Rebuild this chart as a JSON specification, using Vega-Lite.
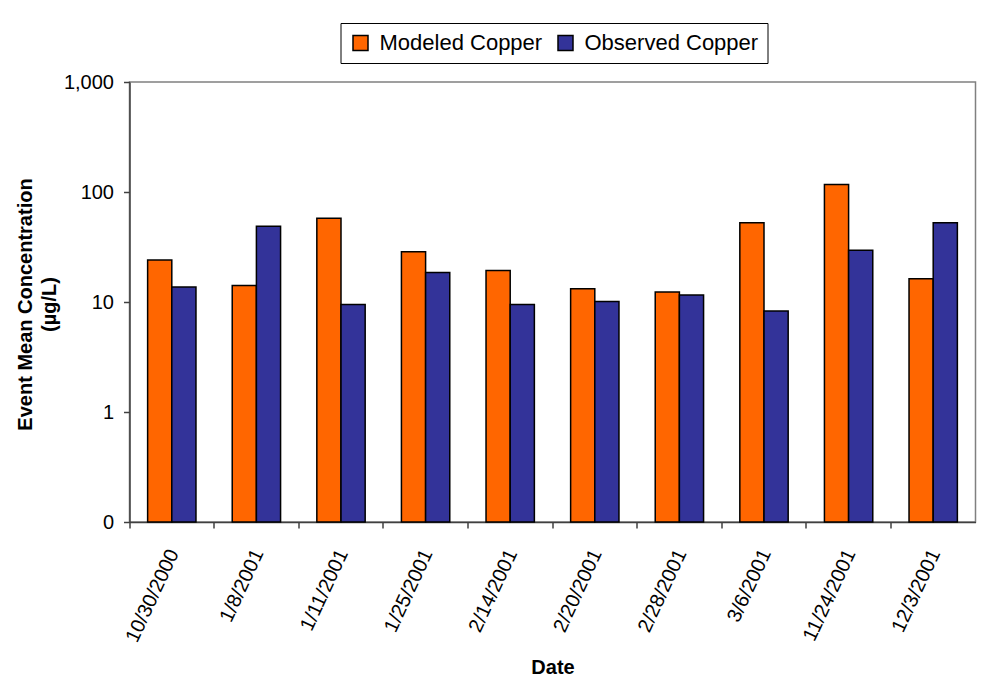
{
  "$schema": "https://vega.github.io/schema/vega-lite/v6.json",
  "width": 846,
  "height": 440,
  "autosize": {"type": "none"},
  "padding": {"left": 129.5, "top": 82, "right": 8.5, "bottom": 164},
  "background": "white",
  "config": {
    "font": "Liberation Sans",
    "view": {"stroke": "#808080", "strokeWidth": 1.5}
  },
  "data": {
    "values": [
      {"Date": "10/30/2000", "Series": "Modeled Copper", "Value": 24.1},
      {"Date": "10/30/2000", "Series": "Observed Copper", "Value": 13.7},
      {"Date": "1/8/2001", "Series": "Modeled Copper", "Value": 14.1},
      {"Date": "1/8/2001", "Series": "Observed Copper", "Value": 48.9},
      {"Date": "1/11/2001", "Series": "Modeled Copper", "Value": 57.8},
      {"Date": "1/11/2001", "Series": "Observed Copper", "Value": 9.5},
      {"Date": "1/25/2001", "Series": "Modeled Copper", "Value": 28.7},
      {"Date": "1/25/2001", "Series": "Observed Copper", "Value": 18.5},
      {"Date": "2/14/2001", "Series": "Modeled Copper", "Value": 19.3},
      {"Date": "2/14/2001", "Series": "Observed Copper", "Value": 9.5},
      {"Date": "2/20/2001", "Series": "Modeled Copper", "Value": 13.2},
      {"Date": "2/20/2001", "Series": "Observed Copper", "Value": 10.1},
      {"Date": "2/28/2001", "Series": "Modeled Copper", "Value": 12.3},
      {"Date": "2/28/2001", "Series": "Observed Copper", "Value": 11.6},
      {"Date": "3/6/2001", "Series": "Modeled Copper", "Value": 52.4},
      {"Date": "3/6/2001", "Series": "Observed Copper", "Value": 8.3},
      {"Date": "11/24/2001", "Series": "Modeled Copper", "Value": 117},
      {"Date": "11/24/2001", "Series": "Observed Copper", "Value": 29.6},
      {"Date": "12/3/2001", "Series": "Modeled Copper", "Value": 16.3},
      {"Date": "12/3/2001", "Series": "Observed Copper", "Value": 52.4}
    ]
  },
  "mark": {"type": "bar", "stroke": "#000000", "strokeWidth": 1.5},
  "encoding": {
    "x": {
      "field": "Date",
      "type": "ordinal",
      "sort": null,
      "scale": {"paddingInner": 0, "paddingOuter": 0},
      "axis": {
        "title": "Date",
        "titleFontSize": 20,
        "titleFontWeight": "bold",
        "titleColor": "#000000",
        "titleX": 423,
        "titleY": 151,
        "titleBaseline": "alphabetic",
        "bandPosition": 0,
        "labelOffset": 2,
        "labelAngle": -65,
        "labelAlign": "right",
        "labelBaseline": "middle",
        "labelFontSize": 20,
        "labelColor": "#000000",
        "labelPadding": 22,
        "tickSize": 6,
        "tickColor": "#404040",
        "domainColor": "#404040",
        "domainWidth": 1.5,
        "tickWidth": 1.5,
        "grid": false
      }
    },
    "xOffset": {
      "field": "Series",
      "type": "nominal",
      "scale": {"paddingInner": 0, "paddingOuter": 0.75}
    },
    "y": {
      "field": "Value",
      "type": "quantitative",
      "scale": {"type": "log", "domain": [0.1, 1000], "nice": false},
      "axis": {
        "title": ["Event Mean Concentration", "(µg/L)"],
        "titleFontSize": 20,
        "titleFontWeight": "bold",
        "titleColor": "#000000",
        "titleLineHeight": 24,
        "titleAngle": -90,
        "titleAlign": "center",
        "titleBaseline": "middle",
        "titleX": -104.5,
        "titleY": 222,
        "values": [0.1, 1, 10, 100, 1000],
        "labelExpr": "datum.value < 0.5 ? '0' : format(datum.value, ',')",
        "labelFontSize": 20,
        "labelColor": "#000000",
        "labelPadding": 10,
        "tickSize": 6,
        "tickColor": "#404040",
        "tickWidth": 1.5,
        "domainColor": "#404040",
        "domainWidth": 1.5,
        "grid": false
      }
    },
    "y2": {"datum": 0.1},
    "color": {
      "field": "Series",
      "type": "nominal",
      "scale": {"domain": ["Modeled Copper", "Observed Copper"], "range": ["#FF6600", "#333399"]},
      "legend": {
        "title": null,
        "orient": "none",
        "legendX": 211,
        "legendY": -59,
        "direction": "horizontal",
        "strokeColor": "#000000",
        "padding": 9,
        "columnPadding": 12,
        "labelFontSize": 22,
        "labelLimit": 0,
        "labelColor": "#000000",
        "labelOffset": 8,
        "symbolType": "square",
        "symbolSize": 225,
        "symbolStrokeColor": "#000000",
        "symbolStrokeWidth": 1.5,
        "symbolOpacity": 1
      }
    }
  }
}
